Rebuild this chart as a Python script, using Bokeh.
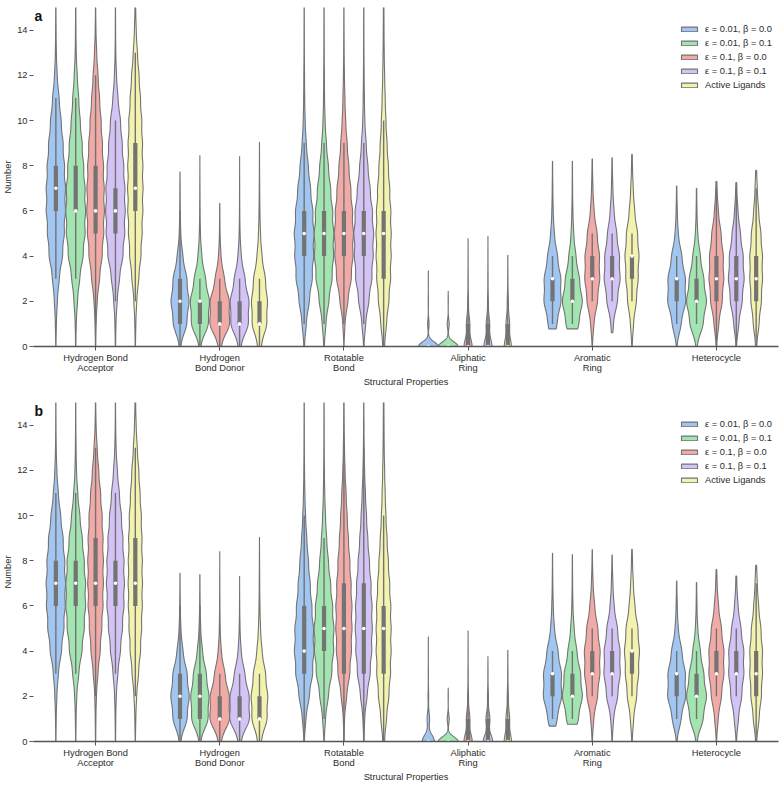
import math
import numpy as np
from bokeh.plotting import figure
from bokeh.models import Range1d, FixedTicker, Legend, LegendItem, Label, ColumnDataSource
from bokeh.layouts import column
from bokeh.embed import file_html
from bokeh.resources import INLINE

# ---------------- data ----------------
categories = ["Hydrogen Bond\nAcceptor", "Hydrogen\nBond Donor", "Rotatable\nBond",
              "Aliphatic\nRing", "Aromatic\nRing", "Heterocycle"]
series = ["ε = 0.01, β = 0.0", "ε = 0.01, β = 0.1", "ε = 0.1, β = 0.0",
          "ε = 0.1, β = 0.1", "Active Ligands"]
colors = ["#a0c6f1", "#a2e5b0", "#f2aaa7", "#d3c3f6", "#f4f3ae"]
y_ticks = [0, 2, 4, 6, 8, 10, 12, 14]

# relative frequency of each count value 0,1,2,... ; box = (q1, median, q3);
# reach = (low, high) extent of each violin
# Active ligands (same reference set in both panels), one entry per category
active_freq = [
    [0.3, 1, 2.7, 6.7, 11, 13.3, 14.7, 15, 14.7, 14, 12.7, 10, 7.3, 4, 1.7, 0.7],
    [3, 14, 15, 11, 4.5, 1.8, 0.8, 0.4, 0.2],
    [1.5, 5, 9.3, 12.3, 13.3, 13.3, 12.7, 10.7, 8.3, 6, 4, 2.7, 1.7, 1, 0.7, 0.5],
    [12, 6, 1.8, 0.5, 0.15],
    [0.5, 3.3, 10, 14, 16, 12.7, 6, 2.7, 1, 0.3],
    [1, 6, 11, 13.3, 13.3, 10, 5, 2.3, 0.7],
]
active_box = [(6, 7, 9), (1, 1, 2), (3, 5, 6), (0, 0, 1), (3, 4, 4), (2, 3, 4)]
active_reach = [(-1, 16), (-1, 9.04), (-1, 16), (-1, 4.04), (-1, 8.5), (-1, 7.8)]

# ---- panel a: four generated sets per category ----
acceptor_a_freq = [
    [0.3, 1, 3, 7, 14, 17.5, 20, 20, 18, 15, 11, 6.7, 2.7, 1, 0.5, 0.3],
    [0.3, 1, 3.5, 8, 15, 19, 20, 19, 16, 13, 9, 6, 3, 1, 0.5, 0.3],
    [0.4, 1.2, 3.5, 9, 15, 18.5, 20, 19.5, 18, 15.5, 12.5, 9, 5.5, 2.5, 0.8, 0.3],
    [0.3, 1, 3.3, 8, 15, 18.5, 19.5, 19, 16.5, 13.5, 10, 5, 2, 0.7, 0.3, 0.2],
]
acceptor_a_box = [(6, 7, 8), (6, 6, 8), (5, 6, 8), (5, 6, 7)]
acceptor_a_reach = [(-1, 16), (-1, 16), (-1, 16), (-1, 16)]

donor_a_freq = [
    [1, 15, 20, 15, 6, 1.5, 0.6, 0.3],
    [1, 17, 19, 11, 3.5, 1, 0.4, 0.2],
    [2, 18, 17, 8, 2, 0.5, 0.2],
    [2, 17, 18, 10, 3, 0.8, 0.3, 0.15],
]
donor_a_box = [(1, 2, 3), (1, 2, 2), (1, 1, 2), (1, 1, 2)]
donor_a_reach = [(-1, 7.73), (-1, 8.45), (-1, 6.34), (-1, 8.41)]

rot_a_freq = [
    [0.5, 4, 10, 16, 18.5, 19.5, 17, 12.5, 8, 4, 1.8, 1, 0.7, 0.4, 0.3, 0.2],
    [0.5, 3.5, 9.5, 16, 19, 19.5, 17, 13, 8.5, 4.5, 2, 1, 0.7, 0.4, 0.3, 0.2],
    [0.2, 2, 8, 15, 18.5, 19.5, 17.5, 14, 10, 6.5, 3.5, 2, 1, 0.5, 0.3, 0.2],
    [0.3, 3.5, 10, 16, 18.5, 19.5, 17, 12.5, 8, 4.5, 2, 1.2, 0.7, 0.4, 0.3, 0.2],
]
rot_a_box = [(4, 5, 6), (4, 5, 6), (4, 5, 6), (4, 5, 6)]
rot_a_reach = [(-1, 16), (-1, 16), (-1, 16), (-1, 16)]

ali_a_freq = [
    [30, 2.2, 0.4, 0.1],
    [30, 3, 0.3],
    [12, 5, 1.2, 0.4, 0.15],
    [12, 5, 1.2, 0.4, 0.15],
]
ali_a_box = [(0, 0, 0), (0, 0, 0), (0, 0, 1), (0, 0, 1)]
ali_a_reach = [(-1, 3.35), (-1, 2.45), (-1, 4.78), (-1, 4.88)]

arom_a_freq = [
    [0, 9, 17.5, 17, 10, 3.5, 1.3, 0.6, 0.2],
    [0, 13, 20.5, 14, 7, 2.5, 1, 0.4, 0.2],
    [0.3, 3.5, 12, 17, 16.5, 11, 4, 1.5, 0.5],
    [0, 2.5, 11.5, 17.5, 16, 10, 4, 1.5, 0.5],
]
arom_a_box = [(2, 3, 3), (2, 2, 3), (3, 3, 4), (3, 3, 4)]
arom_a_reach = [(0.78, 8.2), (0.78, 8.2), (-1, 8.3), (0.61, 8.35)]

het_a_freq = [
    [0.3, 8, 16.7, 16, 9.3, 2.7, 1, 0.3],
    [0.5, 12, 18.3, 13, 6.7, 2, 0.7, 0.3],
    [0.3, 5, 12.7, 16, 15, 10, 4, 1.3, 0.3],
    [0.3, 5, 12, 16, 14, 8.3, 3.3, 1, 0.3],
]
het_a_box = [(2, 3, 3), (2, 2, 3), (2, 3, 4), (2, 3, 4)]
het_a_reach = [(-1, 7.1), (-1, 7.0), (-1, 7.3), (-1, 7.25)]

# ---- panel b ----
acceptor_b_freq = [
    [0.3, 0.7, 2, 5, 11.7, 16.7, 19.3, 20, 18.3, 15, 10, 5, 2, 0.7, 0.3, 0.2],
    [0.3, 0.7, 2, 6, 12.7, 17.3, 20, 20, 17.3, 13.3, 8.3, 4, 1.5, 0.7, 0.3, 0.2],
    [0.3, 0.7, 1.7, 5, 10, 13.3, 16, 16.7, 16.7, 16, 14, 10.7, 6.7, 3.3, 1, 0.3],
    [0.3, 0.7, 1.7, 5, 10.7, 15, 18.3, 19.3, 18.3, 16, 12.7, 8.3, 4, 1.3, 0.5, 0.2],
]
acceptor_b_box = [(6, 7, 8), (6, 7, 8), (6, 7, 9), (6, 7, 8)]
acceptor_b_reach = [(-1, 16), (-1, 16), (-1, 16), (-1, 16)]

donor_b_freq = [
    [1, 15, 19.5, 15, 6, 1.7, 0.6, 0.2],
    [1, 17, 18.5, 13, 5, 1.5, 0.5, 0.2],
    [2, 18, 17, 9, 2.5, 0.7, 0.3, 0.15],
    [2, 18, 17, 9, 2.5, 0.7, 0.2],
]
donor_b_box = [(1, 2, 3), (1, 2, 3), (1, 1, 2), (1, 1, 2)]
donor_b_reach = [(-1, 7.45), (-1, 7.39), (-1, 8.41), (-1, 7.31)]

rot_b_freq = [
    [0.3, 3.3, 10, 16.7, 19.3, 18.3, 15, 11.7, 8.3, 5, 2.7, 1.3, 0.7, 0.4, 0.3, 0.2],
    [0.3, 2.7, 8.3, 15, 18.7, 19.3, 16.7, 12.7, 8.3, 5, 2.7, 1.3, 0.7, 0.4, 0.3, 0.2],
    [0.2, 1, 5, 11, 14, 15, 15, 13.3, 11, 8.3, 6, 4, 2, 1, 0.5, 0.3],
    [0.3, 1.5, 6, 12, 15, 16, 15.5, 13.5, 10.5, 7.5, 5, 3, 1.5, 0.7, 0.4, 0.2],
]
rot_b_box = [(3, 4, 6), (4, 5, 6), (3, 5, 7), (3, 5, 7)]
rot_b_reach = [(-1, 16), (-1, 16), (-1, 16), (-1, 16)]

ali_b_freq = [
    [20, 4, 1, 0.3, 0.1],
    [30, 3, 0.3],
    [12, 5, 1.2, 0.4, 0.15],
    [12, 5, 1.2, 0.3],
]
ali_b_box = [(0, 0, 0), (0, 0, 0), (0, 0, 1), (0, 0, 1)]
ali_b_reach = [(-1, 4.63), (-1, 2.37), (-1, 4.9), (-1, 3.76)]

arom_b_freq = [
    [0, 8.5, 17, 16.5, 10, 3.3, 1.3, 0.5, 0.2],
    [0, 11, 18.5, 15, 8, 3, 1, 0.4, 0.2],
    [0.3, 3, 11.5, 16.5, 17, 12, 5, 1.7, 0.5],
    [0.3, 2.7, 11.5, 17, 16.5, 11, 4, 1.5, 0.4],
]
arom_b_box = [(2, 3, 3), (2, 2, 3), (3, 3, 4), (3, 3, 4)]
arom_b_reach = [(0.68, 8.33), (0.76, 8.27), (-1, 8.49), (-1, 8.25)]

het_b_freq = [
    [0.3, 8, 16.7, 16, 9.3, 2.7, 1, 0.3],
    [0.5, 12, 18.3, 13, 6.7, 2, 0.7, 0.3],
    [0.3, 3.3, 10, 15, 15, 10, 4, 1.3, 0.3],
    [0.3, 4, 10.7, 15, 15, 9.3, 3.3, 1, 0.3],
]
het_b_box = [(2, 3, 3), (2, 2, 3), (3, 3, 4), (3, 3, 4)]
het_b_reach = [(-1, 7.1), (-1, 7.03), (-1, 7.61), (-1, 7.32)]

# ---------------- drawing ----------------
FONT = "Liberation Sans"
GRAY = "#737373"
TEXT = "#2b2b2b"
FS = "9.3px"
HUE_STEP = 0.16
HALF = 0.08
FIG_W = 780


def kde(freq, lo, hi, n=320):
    f = np.asarray(freq, float)
    p = f / f.sum()
    k = np.arange(len(f))
    m = (p * k).sum()
    sd = math.sqrt((p * (k - m) ** 2).sum())
    bw = min(0.45, max(0.2, 0.45 * sd))
    y = np.linspace(lo, hi, n)
    d = (p[None, :] * np.exp(-0.5 * ((y[:, None] - k[None, :]) / bw) ** 2)).sum(axis=1)
    d /= bw * math.sqrt(2 * math.pi)
    return y, d


def make_panel(letter, freqs, boxes, reaches, height, top, legend_loc):
    p = figure(width=FIG_W, height=height, output_backend="svg", toolbar_location=None,
               x_range=Range1d(-0.5, 5.5), y_range=Range1d(0, 15),
               min_border_top=top, min_border_right=2, min_border_left=10,
               min_border_bottom=0)
    vxs, vys, vcol = [], [], []
    wx, wy0, wy1 = [], [], []
    bx, by0, by1 = [], [], []
    mx, my = [], []
    for c in range(6):
        fl = freqs[c] + [active_freq[c]]
        bl = boxes[c] + [active_box[c]]
        rl = reaches[c] + [active_reach[c]]
        profs = [kde(fl[h], rl[h][0], rl[h][1]) for h in range(5)]
        peak = max(d.max() for _, d in profs)
        for h in range(5):
            x0 = c + (h - 2) * HUE_STEP
            y, d = profs[h]
            w = d / peak * HALF
            vxs.append(np.concatenate([x0 + w, (x0 - w)[::-1]]))
            vys.append(np.concatenate([y, y[::-1]]))
            vcol.append(colors[h])
            q1, med, q3 = bl[h]
            iqr = q3 - q1
            nz = [i for i, v in enumerate(fl[h]) if v > 0]
            lo = max(nz[0], math.ceil(q1 - 1.5 * iqr))
            hi = min(nz[-1], math.floor(q3 + 1.5 * iqr))
            if hi > lo:
                wx.append(x0); wy0.append(lo); wy1.append(hi)
            if q3 > q1:
                bx.append(x0); by0.append(q1); by1.append(q3)
            mx.append(x0); my.append(med)

    vsrc = ColumnDataSource(dict(xs=vxs, ys=vys, color=vcol))
    vr = p.patches("xs", "ys", source=vsrc, fill_color="color", fill_alpha=1.0,
                   line_color=GRAY, line_width=1.1)
    p.segment(x0=wx, y0=wy0, x1=wx, y1=wy1, line_color=GRAY, line_width=1.4)
    p.segment(x0=bx, y0=by0, x1=bx, y1=by1, line_color=GRAY, line_width=4.2,
              line_cap="butt")
    p.scatter(x=mx, y=my, size=3.6, marker="circle", fill_color="white",
              line_color=None)

    legend = Legend(items=[LegendItem(label=series[i], renderers=[vr], index=i)
                           for i in range(5)],
                    location=legend_loc, margin=0, padding=4, spacing=4,
                    glyph_width=20, glyph_height=6, label_height=10,
                    label_standoff=6, label_text_font=FONT,
                    label_text_font_size=FS, label_text_color=TEXT,
                    background_fill_alpha=0, border_line_alpha=0)
    p.add_layout(legend)

    p.xaxis.ticker = FixedTicker(ticks=list(range(6)))
    p.xaxis.major_label_overrides = {i: categories[i] for i in range(6)}
    p.yaxis.ticker = FixedTicker(ticks=y_ticks)
    p.xaxis.axis_label = "Structural Properties"
    p.yaxis.axis_label = "Number"
    for ax in (p.xaxis[0], p.yaxis[0]):
        ax.axis_label_text_font = FONT
        ax.axis_label_text_font_size = FS
        ax.axis_label_text_font_style = "normal"
        ax.axis_label_text_color = TEXT
        ax.major_label_text_font = FONT
        ax.major_label_text_font_size = FS
        ax.major_label_text_color = TEXT
        ax.major_tick_line_color = "#555555"
        ax.major_tick_out = 4
        ax.major_tick_in = 0
        ax.minor_tick_line_color = None
        ax.axis_label_standoff = 1
        ax.major_label_standoff = 2
    p.xaxis.axis_line_color = "#555555"
    p.xaxis.axis_line_width = 1.3
    p.xaxis.major_label_text_line_height = 1.05
    p.yaxis.axis_line_color = None
    p.xgrid.visible = False
    p.ygrid.visible = False
    p.outline_line_color = None

    p.add_layout(Label(x=-0.5, y=15, x_units="data", y_units="data", x_offset=1,
                       y_offset=0, text=letter, text_font=FONT,
                       text_font_style="bold", text_font_size="14px",
                       text_baseline="top", text_align="left", text_color="#111111",
                       level="overlay"))
    return p


pa = make_panel("a",
                [acceptor_a_freq, donor_a_freq, rot_a_freq, ali_a_freq, arom_a_freq, het_a_freq],
                [acceptor_a_box, donor_a_box, rot_a_box, ali_a_box, arom_a_box, het_a_box],
                [acceptor_a_reach, donor_a_reach, rot_a_reach, ali_a_reach, arom_a_reach, het_a_reach],
                390, 7, (642, 252))
pb = make_panel("b",
                [acceptor_b_freq, donor_b_freq, rot_b_freq, ali_b_freq, arom_b_freq, het_b_freq],
                [acceptor_b_box, donor_b_box, rot_b_box, ali_b_box, arom_b_box, het_b_box],
                [acceptor_b_reach, donor_b_reach, rot_b_reach, ali_b_reach, arom_b_reach, het_b_reach],
                395, 12, (642, 252))

layout = column(pa, pb)
open("out.html", "w").write(file_html(layout, INLINE))
